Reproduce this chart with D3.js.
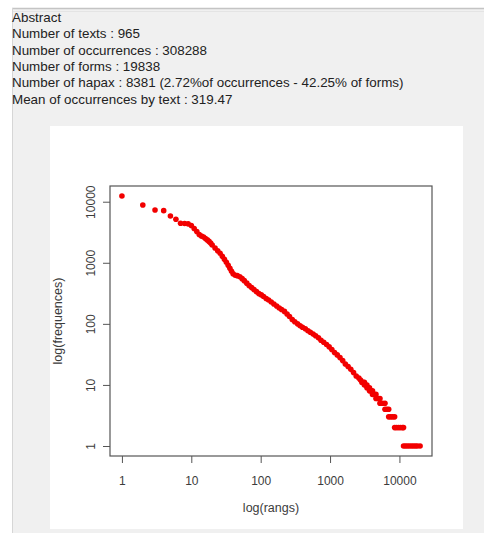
<!DOCTYPE html>
<html>
<head>
<meta charset="utf-8">
<script src="https://cdn.jsdelivr.net/npm/d3@7/dist/d3.min.js"></script>
<style>
  html, body { margin: 0; padding: 0; background: #ffffff; }
  svg { display: block; }
</style>
</head>
<body>
<svg id="chart" width="484" height="533"></svg>
<script>
// Corpus summary lines shown above the plot
const summaryLines = [
  "Abstract",
  "Number of texts : 965",
  "Number of occurrences : 308288",
  "Number of forms : 19838",
  "Number of hapax : 8381 (2.72%of occurrences - 42.25% of forms)",
  "Mean of occurrences by text : 319.47"
];

// Rank / frequency pairs of the word forms (Zipf curve)
const ranks = [
  1, 2, 3, 4, 5, 6, 7, 8, 9, 10,
  11, 12, 13, 14, 15, 16, 17, 18, 19, 20,
  22, 24, 26, 28, 30, 32, 34, 36, 38, 40,
  43, 46, 50, 54, 58, 63, 68, 74, 80, 87,
  94, 102, 110, 120, 130, 142, 155, 170, 185, 200,
  220, 240, 260, 285, 310, 340, 370, 400, 440, 480,
  520, 570, 620, 680, 740, 810, 890, 970, 1060, 1160,
  1270, 1390, 1520, 1660, 1820, 1990, 2180, 2380, 2600, 2750,
  2880, 3000, 3129,
  3130, 3260, 3399,
  3400, 3550, 3699,
  3700, 3890, 4089,
  4090, 4330, 4589,
  4590, 4900, 5239,
  5240, 5690, 6189,
  6190, 6580, 6999,
  7000, 7480, 7990, 8529,
  8530, 9060, 9680, 10330, 11050, 11457,
  11458, 12200, 13000, 13900, 14900, 15900, 17000, 18100, 19838
];
const freqs = [
  12400, 8830, 7330, 7140, 5850, 5150, 4440, 4400, 4340, 4070,
  3640, 3250, 2900, 2750, 2650, 2500, 2370, 2240, 2110, 1960,
  1750, 1570, 1430, 1280, 1140, 1020, 910, 815, 728, 662,
  626, 615, 592, 550, 510, 464, 423, 392, 364, 337,
  313, 298, 280, 260, 246, 228, 211, 196, 182, 172,
  160, 145, 132, 118, 108, 100, 93, 88, 83, 77,
  73, 68, 64, 59, 54, 50, 46, 42, 38, 34,
  31, 28, 25, 22, 20, 18, 16, 14, 13, 12,
  11, 11, 11,
  10, 10, 10,
  9, 9, 9,
  8, 8, 8,
  7, 7, 7,
  6, 6, 6,
  5, 5, 5,
  4, 4, 4,
  3, 3, 3, 3,
  2, 2, 2, 2, 2, 2,
  1, 1, 1, 1, 1, 1, 1, 1, 1
];

// Axis ticks and titles
const xTicks = [1, 10, 100, 1000, 10000];
const yTicks = [1, 10, 100, 1000, 10000];
const xTitle = "log(rangs)";
const yTitle = "log(frequences)";

const points = ranks.map((r, i) => ({ rank: r, freq: freqs[i] }));

const svg = d3.select("#chart");

// Window background and frame
svg.append("rect").attr("x", 12).attr("y", 8).attr("width", 472).attr("height", 525)
  .attr("fill", "#f0f0f0");
svg.append("line").attr("x1", 12).attr("x2", 484).attr("y1", 8.5).attr("y2", 8.5)
  .attr("stroke", "#c4c4c4").attr("stroke-width", 1.5);
svg.append("line").attr("x1", 12).attr("x2", 484).attr("y1", 11.5).attr("y2", 11.5)
  .attr("stroke", "#e4e4e4").attr("stroke-width", 1);
svg.append("line").attr("x1", 12.5).attr("x2", 12.5).attr("y1", 8).attr("y2", 533)
  .attr("stroke", "#d6d6d6").attr("stroke-width", 1);

// Summary text
svg.append("g")
  .selectAll("text")
  .data(summaryLines)
  .join("text")
  .attr("x", 12)
  .attr("y", (d, i) => 21.6 + i * 16.45)
  .attr("font-family", "Liberation Sans, Arial, sans-serif")
  .attr("font-size", 13.4)
  .attr("fill", "#222222")
  .text(d => d);

// White plotting panel
svg.append("rect").attr("x", 50).attr("y", 126).attr("width", 413).attr("height", 403)
  .attr("fill", "#ffffff");

// Plot region
const box = { left: 110, right: 432, top: 186, bottom: 456 };

// Log domains padded by 4% of the log range on each side
function paddedLogDomain(values) {
  const lo = Math.log10(d3.min(values));
  const hi = Math.log10(d3.max(values));
  const pad = (hi - lo) * 0.04;
  return [Math.pow(10, lo - pad), Math.pow(10, hi + pad)];
}

const x = d3.scaleLog().domain(paddedLogDomain(ranks)).range([box.left, box.right]);
const y = d3.scaleLog().domain(paddedLogDomain(freqs)).range([box.bottom, box.top]);

const axisColor = "#555555";
const textColor = "#3c3c3c";
const font = "Liberation Sans, Arial, sans-serif";

// X axis
const xAxis = svg.append("g")
  .attr("transform", `translate(0,${box.bottom})`)
  .call(d3.axisBottom(x).tickValues(xTicks).tickFormat(d3.format("d")).tickSize(7).tickPadding(13));
xAxis.select(".domain").remove();
xAxis.selectAll("line").attr("stroke", axisColor);
xAxis.selectAll("text").attr("font-family", font).attr("font-size", 12).attr("fill", textColor);

// Y axis (labels parallel to the axis)
const yAxis = svg.append("g")
  .attr("transform", `translate(${box.left},0)`)
  .call(d3.axisLeft(y).tickValues(yTicks).tickFormat(d3.format("d")).tickSize(7));
yAxis.select(".domain").remove();
yAxis.selectAll("line").attr("stroke", axisColor);
yAxis.selectAll("text")
  .attr("font-family", font).attr("font-size", 12).attr("fill", textColor)
  .attr("x", null).attr("dy", null)
  .attr("text-anchor", "middle")
  .attr("transform", "translate(-15.5,0) rotate(-90)");

// Frame around the plot region
svg.append("rect")
  .attr("x", box.left).attr("y", box.top)
  .attr("width", box.right - box.left).attr("height", box.bottom - box.top)
  .attr("fill", "none").attr("stroke", axisColor).attr("stroke-width", 1.2);

// Axis titles
svg.append("text")
  .attr("x", (box.left + box.right) / 2).attr("y", 512)
  .attr("text-anchor", "middle")
  .attr("font-family", font).attr("font-size", 12.5).attr("fill", textColor)
  .text(xTitle);
svg.append("text")
  .attr("transform", `translate(61.5,${(box.top + box.bottom) / 2}) rotate(-90)`)
  .attr("text-anchor", "middle")
  .attr("font-family", font).attr("font-size", 12.5).attr("fill", textColor)
  .text(yTitle);

// Points
svg.append("g")
  .selectAll("circle")
  .data(points)
  .join("circle")
  .attr("cx", d => x(d.rank))
  .attr("cy", d => y(d.freq))
  .attr("r", 2.8)
  .attr("fill", "#f20000");
</script>
</body>
</html>
